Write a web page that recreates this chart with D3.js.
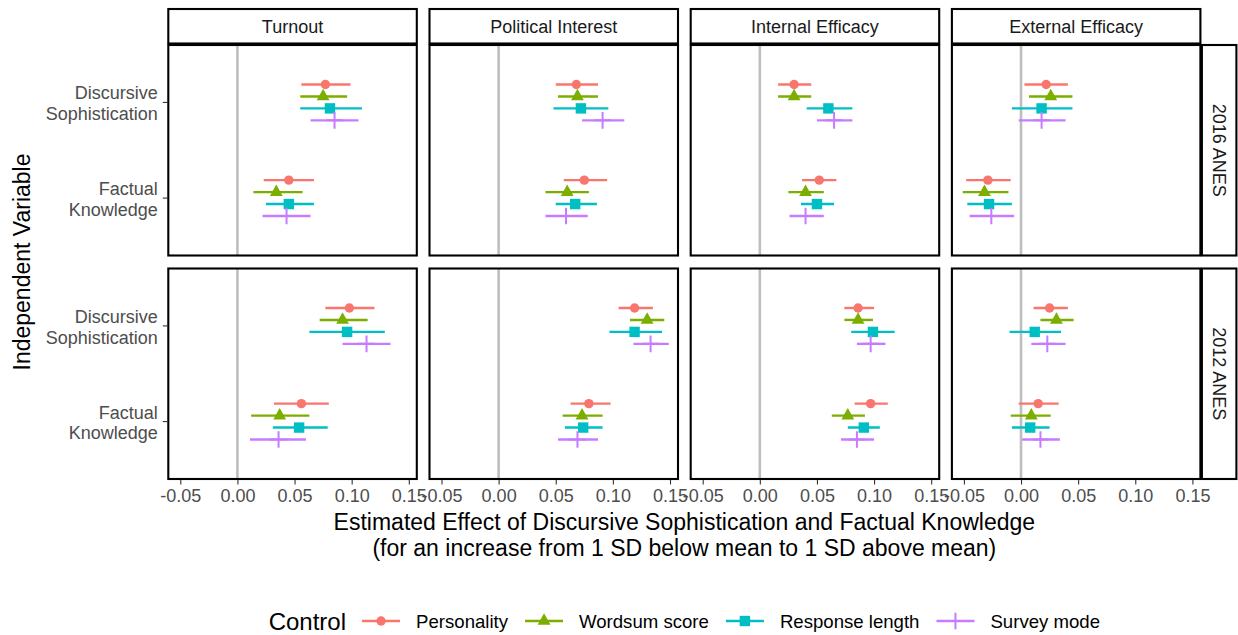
<!DOCTYPE html>
<html>
<head>
<meta charset="utf-8">
<script src="https://cdn.jsdelivr.net/npm/d3@7"></script>
<style>
    body { margin: 0; background: white; }
    text { font-family: "Liberation Sans", Arial, Helvetica, sans-serif; }
</style>
</head>
<body>
<svg id="chart" width="1238" height="635"></svg>
<script>
// facets and categories
const outcomes = ['Turnout', 'Political Interest', 'Internal Efficacy', 'External Efficacy'];
const studies = ['2016 ANES', '2012 ANES'];
const variables = ['Discursive Sophistication', 'Factual Knowledge'];
const variable_lines = [['Discursive', 'Sophistication'], ['Factual', 'Knowledge']];
const controls = ['Personality', 'Wordsum score', 'Response length', 'Survey mode'];
const x_ticks = [-0.05, 0, 0.05, 0.10, 0.15];

// rows: outcome x variable (Turnout DS, Turnout FK, Interest DS, ...), cols: controls
const est_2016 = [
    [0.077, 0.075, 0.081, 0.085], [0.045, 0.034, 0.045, 0.043],
    [0.068, 0.069, 0.072, 0.091], [0.075, 0.060, 0.067, 0.059],
    [0.030, 0.030, 0.060, 0.065], [0.052, 0.040, 0.050, 0.040],
    [0.022, 0.026, 0.018, 0.018], [-0.029, -0.032, -0.028, -0.026]
];
const lo_2016 = [
    [0.056, 0.055, 0.055, 0.064], [0.023, 0.014, 0.025, 0.022],
    [0.050, 0.052, 0.048, 0.073], [0.057, 0.041, 0.050, 0.041],
    [0.016, 0.016, 0.041, 0.050], [0.037, 0.025, 0.036, 0.026],
    [0.003, 0.007, -0.008, -0.002], [-0.048, -0.051, -0.047, -0.045]
];
const hi_2016 = [
    [0.099, 0.096, 0.109, 0.106], [0.067, 0.057, 0.067, 0.064],
    [0.087, 0.087, 0.096, 0.110], [0.095, 0.079, 0.086, 0.078],
    [0.045, 0.045, 0.081, 0.081], [0.067, 0.056, 0.065, 0.056],
    [0.041, 0.045, 0.045, 0.039], [-0.009, -0.011, -0.008, -0.006]
];
const est_2012 = [
    [0.098, 0.092, 0.096, 0.113], [0.056, 0.037, 0.054, 0.036],
    [0.119, 0.130, 0.119, 0.133], [0.079, 0.073, 0.074, 0.069],
    [0.086, 0.086, 0.099, 0.097], [0.097, 0.077, 0.091, 0.085],
    [0.025, 0.031, 0.012, 0.023], [0.015, 0.009, 0.008, 0.017]
];
const lo_2012 = [
    [0.077, 0.072, 0.063, 0.092], [0.032, 0.012, 0.031, 0.011],
    [0.105, 0.115, 0.097, 0.118], [0.063, 0.056, 0.058, 0.052],
    [0.074, 0.074, 0.080, 0.085], [0.083, 0.063, 0.077, 0.071],
    [0.011, 0.017, -0.010, 0.009], [-0.002, -0.009, -0.008, 0.001]
];
const hi_2012 = [
    [0.120, 0.114, 0.129, 0.134], [0.080, 0.063, 0.079, 0.060],
    [0.135, 0.145, 0.143, 0.149], [0.098, 0.091, 0.091, 0.087],
    [0.100, 0.099, 0.118, 0.110], [0.112, 0.092, 0.105, 0.100],
    [0.041, 0.046, 0.035, 0.039], [0.033, 0.026, 0.025, 0.034]
];

const colors = ['#F8766D', '#7CAE00', '#00BFC4', '#C77CFF'];

// layout
const panel_left = 168.3;
const panel_step_x = 261.2;
const panel_w = 248.5;
const panel_tops = [45, 268.5];
const panel_h = 210.5;
const strip_size = 34.5;
const x_domain = [-0.0605, 0.157];
const small_font = 18;
const big_font = 23;

const svg = d3.select('#chart');

const series = [[est_2016, lo_2016, hi_2016], [est_2012, lo_2012, hi_2012]];
const rows = [];
studies.forEach((study, si) => {
    const [est, lo, hi] = series[si];
    outcomes.forEach((outcome, oi) => {
        variables.forEach((variable, vi) => {
            controls.forEach((control, ci) => {
                const r = oi * 2 + vi;
                rows.push({study, outcome, variable, control,
                    est: est[r][ci], lo: lo[r][ci], hi: hi[r][ci]});
            });
        });
    });
});

const color = d3.scaleOrdinal().domain(controls).range(colors);
const fmt = d => d3.format('.2f')(d).replace('\u2212', '-');

function draw_shape(g, control) {
    const c = color(control);
    if (control === 'Personality') {
        g.append('circle').attr('r', 4.7).attr('fill', c);
    } else if (control === 'Wordsum score') {
        g.append('path').attr('d', 'M0,-7.7L6.4,3.8L-6.4,3.8Z').attr('fill', c);
    } else if (control === 'Response length') {
        g.append('rect').attr('x', -5.2).attr('y', -5.2)
            .attr('width', 10.4).attr('height', 10.4).attr('fill', c);
    } else {
        g.append('path').attr('d', 'M-8.3,0H8.3M0,-8.3V8.3')
            .attr('stroke', c).attr('stroke-width', 2);
    }
}

studies.forEach((study, si) => {
    const top = panel_tops[si];
    const y = d3.scalePoint().domain(variables).range([top, top + panel_h]).padding(0.6);
    const dodge = d3.scaleBand().domain(controls)
        .range([-y.step() * 0.25, y.step() * 0.25]);
    const yy = d => y(d.variable) + dodge(d.control) + dodge.bandwidth() / 2;

    outcomes.forEach((outcome, oi) => {
        const left = panel_left + oi * panel_step_x;
        const x = d3.scaleLinear().domain(x_domain).range([left, left + panel_w]);
        const panel = svg.append('g');
        const data = rows.filter(d => d.study === study && d.outcome === outcome);

        panel.append('rect')
            .attr('x', left).attr('y', top).attr('width', panel_w).attr('height', panel_h)
            .attr('fill', 'white');

        panel.append('line')
            .attr('x1', x(0)).attr('x2', x(0))
            .attr('y1', top).attr('y2', top + panel_h)
            .attr('stroke', '#BEBEBE').attr('stroke-width', 2.6);

        panel.selectAll('.err').data(data).join('line')
            .attr('class', 'err')
            .attr('x1', d => x(d.lo)).attr('x2', d => x(d.hi))
            .attr('y1', yy).attr('y2', yy)
            .attr('stroke', d => color(d.control))
            .attr('stroke-width', 2.4);

        panel.selectAll('.pt').data(data).join('g')
            .attr('class', 'pt')
            .attr('transform', d => `translate(${x(d.est)},${yy(d)})`)
            .each(function(d) { draw_shape(d3.select(this), d.control); });

        panel.append('rect')
            .attr('x', left).attr('y', top).attr('width', panel_w).attr('height', panel_h)
            .attr('fill', 'none').attr('stroke', 'black').attr('stroke-width', 2.1);

        // top strips
        if (si === 0) {
            const strip = svg.append('g');
            strip.append('rect')
                .attr('x', left).attr('y', top - 1.5 - strip_size)
                .attr('width', panel_w).attr('height', strip_size)
                .attr('fill', 'white').attr('stroke', 'black').attr('stroke-width', 2.1);
            strip.append('text')
                .attr('x', left + panel_w / 2).attr('y', top - 1.5 - strip_size / 2)
                .attr('dy', '0.36em')
                .attr('text-anchor', 'middle')
                .attr('font-size', small_font)
                .attr('fill', '#1A1A1A')
                .text(outcome);
        }

        // bottom axis
        if (si === studies.length - 1) {
            const axis = d3.axisBottom(x).tickValues(x_ticks).tickFormat(fmt)
                .tickSize(4.5).tickPadding(5);
            const ax = svg.append('g')
                .attr('transform', `translate(0,${top + panel_h + 1})`)
                .call(axis);
            ax.select('.domain').remove();
            ax.selectAll('.tick line').attr('stroke', '#333333').attr('stroke-width', 1.1);
            ax.selectAll('.tick text')
                .attr('fill', '#4D4D4D')
                .attr('font-size', small_font)
                .style('font-family', '"Liberation Sans", Arial, sans-serif');
        }
    });

    // right strip
    const strip_x = panel_left + 3 * panel_step_x + panel_w + 1.5;
    const rs = svg.append('g');
    rs.append('rect')
        .attr('x', strip_x).attr('y', top)
        .attr('width', strip_size).attr('height', panel_h)
        .attr('fill', 'white').attr('stroke', 'black').attr('stroke-width', 2.1);
    rs.append('text')
        .attr('transform', `translate(${strip_x + strip_size / 2},${top + panel_h / 2}) rotate(90)`)
        .attr('dy', '0.36em')
        .attr('text-anchor', 'middle')
        .attr('font-size', small_font)
        .attr('fill', '#1A1A1A')
        .text(study);

    // left axis
    const ly = svg.append('g');
    variables.forEach((v, vi) => {
        const ty = y(v);
        ly.append('line')
            .attr('x1', panel_left - 5.5).attr('x2', panel_left - 1)
            .attr('y1', ty).attr('y2', ty)
            .attr('stroke', '#333333').attr('stroke-width', 1.1);
        const t = ly.append('text')
            .attr('text-anchor', 'end')
            .attr('font-size', small_font)
            .attr('fill', '#4D4D4D');
        variable_lines[vi].forEach((line, li) => {
            t.append('tspan')
                .attr('x', panel_left - 10.5)
                .attr('y', ty - 3 + li * 20.7)
                .text(line);
        });
    });
});

// axis titles
const area_cx = (panel_left + 3 * panel_step_x + panel_w + panel_left) / 2;
const area_cy = (panel_tops[0] + panel_tops[1] + panel_h) / 2;

svg.append('text')
    .attr('transform', `translate(30,${area_cy}) rotate(-90)`)
    .attr('text-anchor', 'middle')
    .attr('font-size', big_font)
    .text('Independent Variable');

const xt = svg.append('text')
    .attr('text-anchor', 'middle')
    .attr('font-size', big_font);
['Estimated Effect of Discursive Sophistication and Factual Knowledge',
 '(for an increase from 1 SD below mean to 1 SD above mean)'].forEach((line, i) => {
    xt.append('tspan').attr('x', area_cx).attr('y', 530 + i * 25.5).text(line);
});

// legend
const legend = svg.append('g');
const legend_y = 621;
let cursor = 0;
const title = legend.append('text')
    .attr('x', 0).attr('y', legend_y).attr('dy', '0.36em')
    .attr('font-size', 24)
    .text('Control');
cursor += title.node().getComputedTextLength() + 16;
controls.forEach(c => {
    const key = legend.append('g').attr('transform', `translate(${cursor},${legend_y})`);
    key.append('line').attr('x1', 0).attr('x2', 38)
        .attr('stroke', color(c)).attr('stroke-width', 2.4);
    draw_shape(key.append('g').attr('transform', 'translate(19,0)'), c);
    const label = legend.append('text')
        .attr('x', cursor + 54).attr('y', legend_y).attr('dy', '0.36em')
        .attr('font-size', 18.6)
        .text(c);
    cursor += 54 + label.node().getComputedTextLength() + 17;
});
cursor -= 17;
legend.attr('transform', `translate(${area_cx - cursor / 2},0)`);
</script>
</body>
</html>
